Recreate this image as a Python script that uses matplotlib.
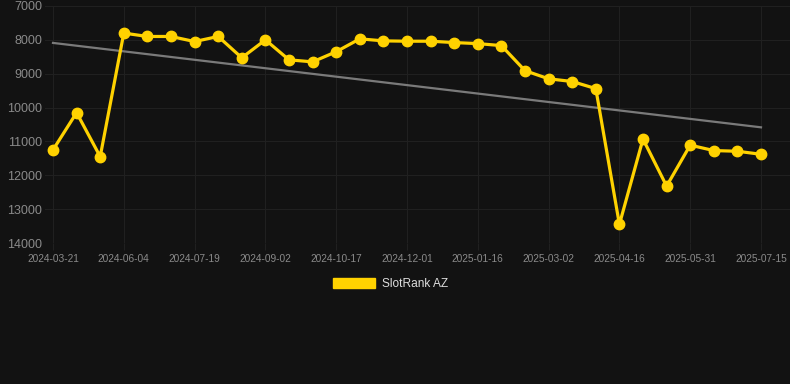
import matplotlib.pyplot as plt
from matplotlib.patches import Patch
import numpy as np

plt.rcParams['font.family'] = ['Liberation Sans', 'DejaVu Sans']

# data (one point every category step)
tick_labels = ["2024-03-21", "2024-06-04", "2024-07-19", "2024-09-02", "2024-10-17",
               "2024-12-01", "2025-01-16", "2025-03-02", "2025-04-16", "2025-05-31",
               "2025-07-15"]
rank = [11250, 10150, 11450, 7800, 7900, 7900, 8050, 7900, 8530, 8000,
        8590, 8650, 8350, 7970, 8030, 8040, 8040, 8080, 8110, 8170,
        8910, 9150, 9230, 9440, 13450, 10930, 12320, 11110, 11270, 11290,
        11380]
series_name = "SlotRank AZ"

bg = "#121212"
grid_col = "#202020"
text_col = "#8a8a8a"
gold = "#FFD200"

x = np.arange(len(rank))
slope, icpt = np.polyfit(x, rank, 1)

fig = plt.figure(figsize=(7.9, 3.84), dpi=100, facecolor=bg)
ax = fig.add_axes([45 / 790, 1 - 243 / 384, 745 / 790, 237 / 384])
ax.set_facecolor(bg)

ax.plot(x, slope * x + icpt, color="#7a7a7a", lw=1.6, zorder=2)
ax.plot(x, rank, color=gold, lw=2.3, marker="o", ms=7.5, zorder=3)

step = (761 - 53) / 30
ax.set_xlim(-8 / step, 30 + 29 / step)
ax.set_ylim(14000, 7000)

ax.set_xticks(x[::3])
ax.set_xticklabels(tick_labels)
ax.set_yticks(range(7000, 14001, 1000))

ax.grid(True, color=grid_col, lw=0.8)
ax.set_axisbelow(True)
for s in ax.spines.values():
    s.set_visible(False)

ax.tick_params(axis="x", colors=grid_col, labelcolor=text_col, labelsize=7.3,
               length=5, width=0.8, pad=3)
ax.tick_params(axis="y", colors=text_col, labelsize=9, length=0, pad=2)

handle = Patch(facecolor=gold, edgecolor=gold)
leg = fig.legend([handle], [series_name], loc="center", bbox_to_anchor=(0.494, 0.26),
                 frameon=False, fontsize=8.6, handlelength=3.5, handleheight=0.95,
                 handletextpad=0.6, labelcolor="#dddddd")

fig.savefig("out.png", dpi=100, facecolor=bg)
